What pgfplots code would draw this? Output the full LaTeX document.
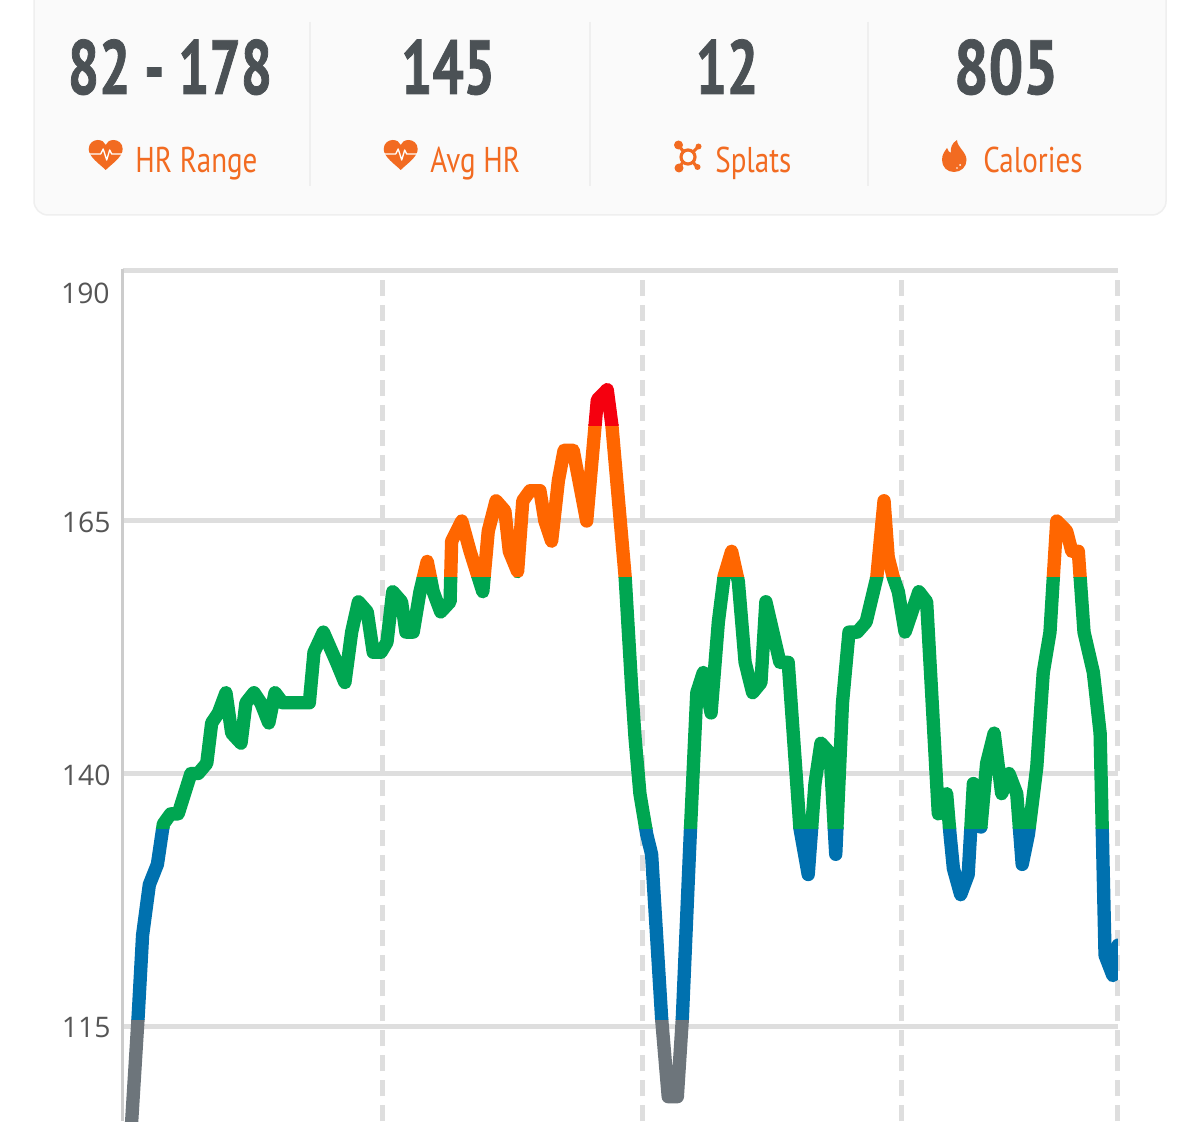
\documentclass[border=0pt]{standalone}
\usepackage{fontspec}
\usepackage{graphicx}
\usepackage{pgfplots}
\usepackage{pgfplotstable}
\pgfplotsset{compat=1.18}
\newfontfamily\numfont[FakeStretch=0.72,BoldFeatures={FakeBold=1}]{PT Sans}
\newfontfamily\labfont[FakeStretch=0.81]{PT Sans}
\newfontfamily\tickfont{Open Sans}
\definecolor{zgray}{HTML}{6D757B}
\definecolor{zblue}{HTML}{0071AF}
\definecolor{zgreen}{HTML}{00A651}
\definecolor{zorange}{HTML}{FF6600}
\definecolor{zred}{HTML}{F5000F}
\definecolor{iconor}{HTML}{F26B21}
\definecolor{numgr}{HTML}{4B5155}
\definecolor{gridc}{HTML}{DEDEDE}
\definecolor{axisc}{HTML}{CCCCCC}
\definecolor{cardc}{HTML}{FAFAFA}
\definecolor{cardl}{HTML}{EFEFEF}
\definecolor{tickc}{HTML}{555555}
\pgfplotstableread{
x hr
0 82
0.35 105.6
0.60 116
0.77 124
1.03 129
1.34 131
1.57 135
1.85 136
2.14 136
2.63 140
2.91 140
3.24 141
3.43 145
3.69 146
3.98 148
4.20 144
4.56 143
4.75 147
5.06 148
5.32 147
5.63 145
5.87 148
6.16 147
7.19 147
7.37 152
7.73 154
8.24 151
8.56 149
8.82 154
9.08 157
9.42 156
9.65 152
9.95 152
10.18 153
10.40 158
10.74 157
10.91 154
11.19 154
11.45 158
11.73 161
11.96 158
12.25 156
12.61 157
12.67 163
13.06 165
13.38 162
13.87 158
14.08 164
14.38 167
14.72 166
14.89 162
15.21 160
15.41 167
15.69 168
16.07 168
16.26 165
16.52 163
16.78 169
17.00 172
17.35 172
17.87 165
18.28 177
18.66 178
18.84 174.5
19.35 159.5
19.60 148.6
19.73 143.6
19.92 138
20.18 134
20.37 132
20.76 115.6
21.01 108
21.36 108
21.55 115.6
21.87 134.7
22.11 148
22.36 150
22.66 146
22.94 155
23.16 159.5
23.45 162
23.71 159
23.97 151
24.26 148
24.58 149
24.77 157
25.31 151
25.63 151
26.08 134.6
26.40 130
26.66 139
26.89 143
27.24 142
27.46 132
27.72 147
27.97 154
28.29 154
28.63 155
29.04 159.4
29.32 167
29.48 161.4
29.68 159.4
29.87 158
30.13 154
30.66 158
30.96 157
31.41 136
31.73 138
31.86 134
31.99 130.6
32.27 128
32.56 130
32.76 139
33.05 134.7
33.27 141
33.56 144
33.85 138
34.13 140
34.43 138
34.64 131
34.88 134
35.20 140.6
35.45 150
35.71 154
35.97 165
36.35 164
36.55 162
36.80 162
37.02 154
37.38 150
37.64 144
37.83 122
38.13 120
38.33 123
}\hrdata
\pgfplotsset{
  zoneaxis/.style={
    hide axis, clip=true, anchor=south west,
    x=15.582pt, y=6.06pt, xmin=0, xmax=38.32
  }
}
\newcommand\zone[3]{%
  \begin{axis}[zoneaxis, ymin=#2, ymax=#3, at={(73.56pt,{(#2-105.594)*6.06 pt})}]
    \addplot[color=#1, line width=8pt, line join=round, line cap=round, no markers] table[x=x,y=hr] {\hrdata};
  \end{axis}%
}
\tikzset{img/.style={x=0.6pt,y=-0.6pt,shift={(0pt,672.6pt)}}}
\newcommand\heart[2]{%
  \begin{scope}[shift={(#1,#2)}]
    \fill[iconor] (0,15) .. controls (-6,9) and (-17,2) .. (-17,-6)
      .. controls (-17,-12) and (-12,-15) .. (-8,-15)
      .. controls (-4,-15) and (-1,-13) .. (0,-10)
      .. controls (1,-13) and (4,-15) .. (8,-15)
      .. controls (12,-15) and (17,-12) .. (17,-6)
      .. controls (17,2) and (6,9) .. (0,15) -- cycle;
    \draw[white, line width=0.8pt, line join=round] (-17,-1) -- (-5,-1) -- (-2.5,-6) -- (1,5) -- (4,-5) -- (6,-1) -- (17,-1);
  \end{scope}}
\begin{document}
\begin{tikzpicture}
\path[use as bounding box] (0pt,0pt) rectangle (720pt,672.6pt);
\begin{scope}[img]
  \fill[white] (0,0) rectangle (1200,1121);
  \draw[fill=cardc, draw=cardl, line width=0.9pt, rounded corners=8.4pt] (34,-30) rectangle (1166,215);
  \foreach \dx in {310,589.5,867.5} \draw[color=cardl, line width=1.2pt] (\dx,22) -- (\dx,186);
  \node[anchor=base, text=numgr, font=\numfont\bfseries\fontsize{46pt}{46pt}\selectfont, inner sep=0pt] at (170,94) {82 - 178};
  \node[anchor=base, text=numgr, font=\numfont\bfseries\fontsize{46pt}{46pt}\selectfont, inner sep=0pt] at (448,94) {145};
  \node[anchor=base, text=numgr, font=\numfont\bfseries\fontsize{46pt}{46pt}\selectfont, inner sep=0pt] at (727,94) {12};
  \node[anchor=base, text=numgr, font=\numfont\bfseries\fontsize{46pt}{46pt}\selectfont, inner sep=0pt] at (1006,94) {\scalebox{1.11}[1]{805}};
  \node[anchor=base west, text=iconor, font=\labfont\fontsize{21.5pt}{21.5pt}\selectfont, inner sep=0pt] at (135,173) {HR Range};
  \node[anchor=base west, text=iconor, font=\labfont\fontsize{21.5pt}{21.5pt}\selectfont, inner sep=0pt] at (430,173) {Avg HR};
  \node[anchor=base west, text=iconor, font=\labfont\fontsize{21.5pt}{21.5pt}\selectfont, inner sep=0pt] at (715,173) {Splats};
  \node[anchor=base west, text=iconor, font=\labfont\fontsize{21.5pt}{21.5pt}\selectfont, inner sep=0pt] at (983,173) {Calories};
  \heart{105.7}{155}
  \heart{400.7}{155}
  % splat
  \draw[iconor, line width=1.9pt] (688,157) circle (7);
  \draw[iconor, line width=1.9pt] (679,146) -- (683,151) (698,147) -- (693,152) (679,168) -- (683,162) (697,167) -- (693,162);
  \fill[iconor] (678.5,145) circle (4.5) (698.5,146.5) circle (3) (679,168) circle (4.5) (697.5,167) circle (3);
  % flame
  \fill[iconor] (957,140) .. controls (957,147) and (966.5,152) .. (966.5,160)
     .. controls (966.5,167) and (961,172) .. (954,172)
     .. controls (947,172) and (942,167) .. (942,160)
     .. controls (942,154) and (945,151) .. (947,148)
     .. controls (948,151) and (949,152) .. (951,153)
     .. controls (950,148) and (952,143) .. (957,140) -- cycle;
  \fill[white] (960,165) circle (1) (957,168) circle (0.8);
\end{scope}
\begin{axis}[
  at={(73.56pt,0pt)}, anchor=south west,
  x=15.582pt, y=6.06pt, xmin=0, xmax=38.32, ymin=105.594, ymax=189.75,
  axis line style={draw=none},
  xtick={10,20,30,38.32}, xticklabels={}, ytick={115,140,165},
  major tick length=0pt,
  grid=major,
  x grid style={gridc, line width=3pt, dash pattern=on 9.6pt off 5.4pt},
  y grid style={gridc, line width=3pt},
  /pgf/number format/assume math mode=true,
  tick label style={font=\tickfont\fontsize{17pt}{17pt}\selectfont, text=tickc},
  yticklabel style={anchor=east, xshift=-7pt, yshift=-1pt, inner sep=0pt},
]
\end{axis}
\begin{scope}[img]
  \draw[gridc, line width=3pt] (122.6,271) -- (1118,271);
  \draw[axisc, line width=2.2pt] (122.6,269) -- (122.6,1121);
  \node[anchor=east, inner sep=0pt, text=tickc, font=\tickfont\fontsize{17pt}{17pt}\selectfont] at (110,293) {190};
\end{scope}
\zone{zgray}{105.594}{115.62}
\zone{zblue}{115.6}{134.62}
\zone{zorange}{159.38}{174.52}
\zone{zgreen}{134.6}{159.4}
\zone{zred}{174.5}{189.75}
\end{tikzpicture}
\end{document}
